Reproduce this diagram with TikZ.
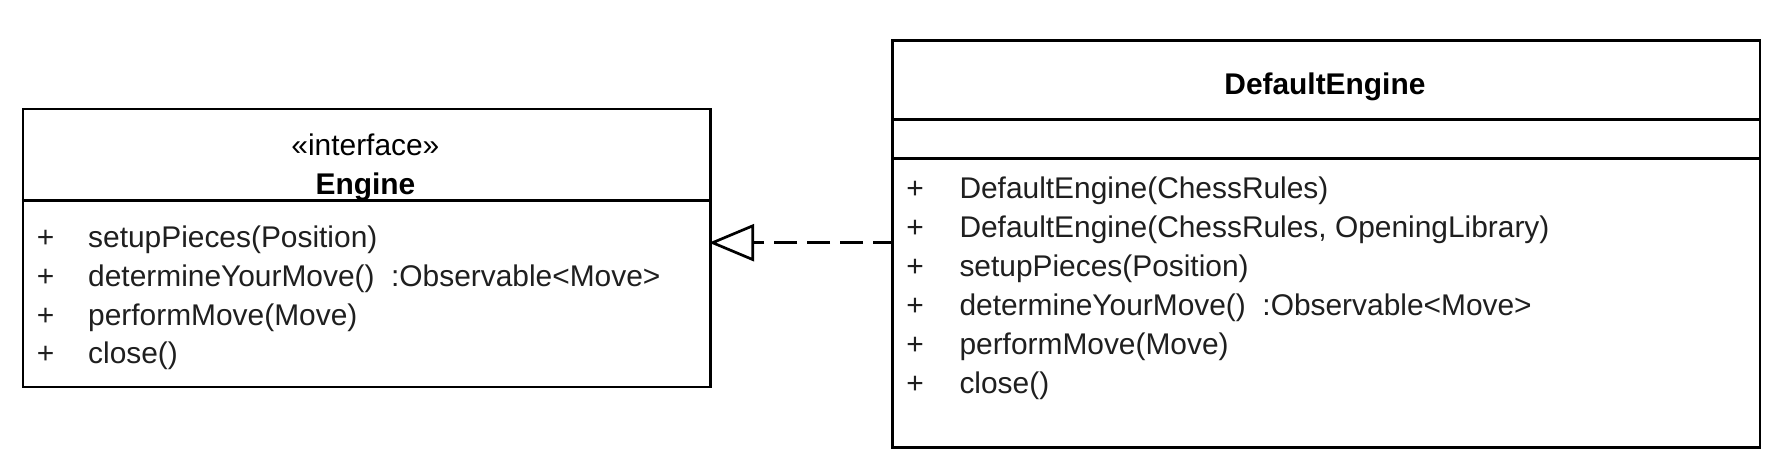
\documentclass[tikz,border=0pt]{standalone}
\usepackage{fontspec}
\setmainfont{Liberation Sans}
\usetikzlibrary{arrows.meta}
\begin{document}
\begin{tikzpicture}[x=1pt,y=-1pt,
  box/.style={draw,line width=2.7pt,anchor=north west,inner sep=0pt},
  sep/.style={line width=2.7pt},
  txt/.style={inner sep=0pt,anchor=base west,font=\fontsize{29.9}{35}\selectfont,text=black!88},
  pls/.style={inner sep=0pt,anchor=base,font=\fontsize{29.9}{35}\selectfont,text=black!88},
  ttl/.style={inner sep=0pt,anchor=base,font=\fontsize{29.9}{35}\selectfont,text=black},
  real/.style={line width=2.7pt,dash pattern=on 23pt off 10pt,dash phase=5pt,-{Triangle[open,length=45pt,width=37pt,line width=2.7pt]}}]
\path[use as bounding box,fill=white] (0,0) rectangle (1788,476);
% Engine
\node[box,minimum width=687.3pt,minimum height=278pt] (eng) at (21.7,107.7) {};
\coordinate (ed1) at (21.7,200.3); \coordinate (ed2) at (709,200.3);
\draw[sep] (ed1) -- (ed2);
\node[ttl] (est) at (365.4,155) {«interface»};
\node[ttl,font=\fontsize{29.9}{35}\selectfont\bfseries] (ename) at (365.4,194.5) {Engine};
\foreach \i/\t [count=\n] in {247.5/setupPieces(Position),286.5/{determineYourMove()\ \ :Observable<Move>},325/performMove(Move),363.5/close()}{
  \node[pls] (ep\n) at (45.5,\i) {+};
  \node[txt] (em\n) at (88,\i) {\t};
}
% DefaultEngine
\node[box,minimum width=867.7pt,minimum height=407.3pt] (de) at (891,39) {};
\coordinate (dd1) at (891,119.3); \coordinate (dd2) at (1758.7,119.3);
\coordinate (dd3) at (891,158.3); \coordinate (dd4) at (1758.7,158.3);
\draw[sep] (dd1) -- (dd2);
\draw[sep] (dd3) -- (dd4);
\node[ttl,font=\fontsize{29.9}{35}\selectfont\bfseries] (dname) at (1324.9,95) {DefaultEngine};
\foreach \i/\t [count=\n] in {198/DefaultEngine(ChessRules),237/{DefaultEngine(ChessRules, OpeningLibrary)},276/setupPieces(Position),315.5/{determineYourMove()\ \ :Observable<Move>},354.5/performMove(Move),393.3/close()}{
  \node[pls] (dp\n) at (915,\i) {+};
  \node[txt] (dm\n) at (959.3,\i) {\t};
}
% realization
\coordinate (ds) at (891,242.7);
\coordinate (et) at (709,242.7);
\draw[real] (ds) -- (et);
\end{tikzpicture}
\end{document}
